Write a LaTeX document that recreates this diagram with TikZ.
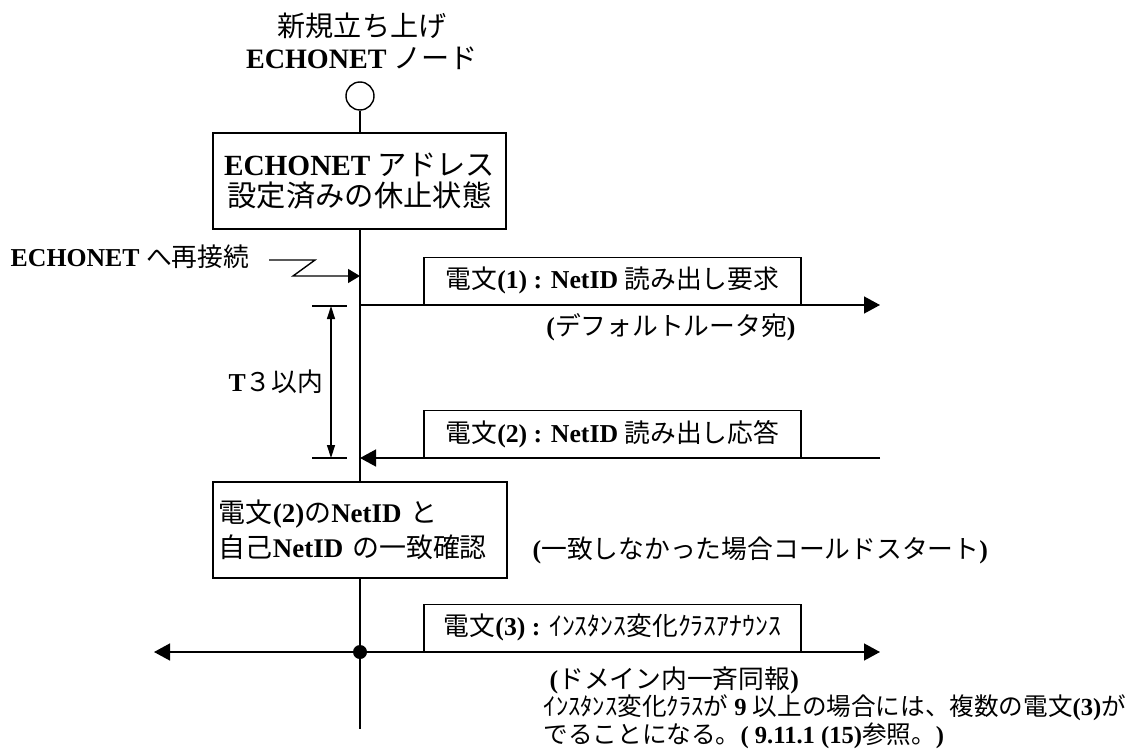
\documentclass[tikz,border=0pt]{standalone}
\usepackage{fontspec}
\setmainfont{Liberation Serif}
\newfontfamily\jpfont{Noto Sans CJK JP}
\newcommand{\ja}[1]{{\mdseries\jpfont #1}}
\usetikzlibrary{arrows.meta}
\tikzset{
  msgbox/.style={draw, fill=white, minimum width=11.31cm, minimum height=1.41cm, anchor=south, inner sep=0pt, font=\bfseries\fontsize{22}{26}\selectfont},
  statebox/.style={draw, fill=white, minimum width=8.8cm, minimum height=2.88cm, align=center},
  txt/.style={inner sep=0pt, font=\bfseries\fontsize{22}{24}\selectfont},
  bigtip/.style={-{Triangle[length=0.48cm,width=0.51cm]}},
  bothtips/.style={{Triangle[length=0.48cm,width=0.51cm]}-{Triangle[length=0.48cm,width=0.51cm]}},
  smalltips/.style={{Triangle[length=0.39cm,width=0.24cm]}-{Triangle[length=0.39cm,width=0.24cm]}}
}
\begin{document}
\begin{tikzpicture}[x=0.03cm, y=-0.03cm, line width=1.2pt]
    \useasboundingbox (0,0) rectangle (1145,751);

    % Node and lifeline
    \node[align=center, inner sep=0pt, font=\bfseries\fontsize{24}{27}\selectfont] (title) at (362,41) {\ja{新規立ち上げ}\\ECHONET \ja{ノード}};
    \node[draw, circle, minimum size=0.84cm, inner sep=0pt] (start) at (360,96) {};
    \coordinate (lifeend) at (360,729);
    \draw (start) -- (lifeend);

    % Dormant state
    \node[statebox, font=\bfseries\fontsize{25}{26}\selectfont] (state) at (359.5,181) {ECHONET \ja{アドレス}\\\ja{設定済みの休止状態}};

    % Reconnection
    \node[txt, anchor=west] (reconn) at (10,257) {ECHONET \ja{へ再接続}};
    \coordinate (z1) at (269,260);
    \coordinate (z2) at (315,260);
    \coordinate (z3) at (293,276);
    \coordinate (recv) at (360,276);
    \draw[-{Triangle[length=0.36cm,width=0.42cm]}] (z1) -- (z2) -- (z3) -- (recv);

    % Message (1)
    \coordinate (m1a) at (360,305);
    \coordinate (m1b) at (880,305);
    \draw[bigtip] (m1a) -- (m1b);
    \node[msgbox] (msg1) at (612.5,305) {\ja{電文}(1) : NetID \ja{読み出し要求}};
    \node[txt] (dest1) at (671,327) {(\ja{デフォルトルータ宛})};

    % Message (2)
    \coordinate (m2a) at (880,458);
    \coordinate (m2b) at (360,458);
    \draw[bigtip] (m2a) -- (m2b);
    \node[msgbox] (msg2) at (612.5,458) {\ja{電文}(2) : NetID \ja{読み出し応答}};

    % T3 interval
    \coordinate (t3top) at (331,306);
    \coordinate (t3bot) at (331,458);
    \draw (312,306) -- (347,306);
    \draw (312,458) -- (347,458);
    \draw[smalltips] (t3top) -- (t3bot);
    \node[txt] (t3) at (276,382) {T\ja{３以内}};

    % NetID check
    \node[draw, fill=white, text width=8.46cm, inner xsep=0.18cm, minimum height=2.88cm, align=left, font=\bfseries\fontsize{23}{30}\selectfont] (check) at (360,530) {\ja{電文}(2)\ja{の}NetID \ja{と}\\\ja{自己}NetID \ja{の一致確認}};
    \node[txt, anchor=west] (cold) at (532,550) {(\ja{一致しなかった場合コールドスタート})};

    % Message (3)
    \coordinate (m3a) at (154,652);
    \coordinate (m3b) at (880,652);
    \draw[bothtips] (m3a) -- (m3b);
    \node[circle, fill, inner sep=0pt, minimum size=0.42cm] (hub) at (360,652) {};
    \node[msgbox] (msg3) at (612.5,652) {\ja{電文}(3) : \ja{ｲﾝｽﾀﾝｽ変化ｸﾗｽｱﾅｳﾝｽ}};
    \node[txt, anchor=west] (dest3) at (549,680) {(\ja{ドメイン内一斉同報})};
    \node[txt, anchor=north west, align=left, font=\bfseries\fontsize{21}{23.5}\selectfont] (note) at (543,694) {\ja{ｲﾝｽﾀﾝｽ変化ｸﾗｽが} 9 \ja{以上の場合には、複数の電文}(3)\ja{が}\\\ja{でることになる。}( 9.11.1 (15)\ja{参照。})};
\end{tikzpicture}
\end{document}
